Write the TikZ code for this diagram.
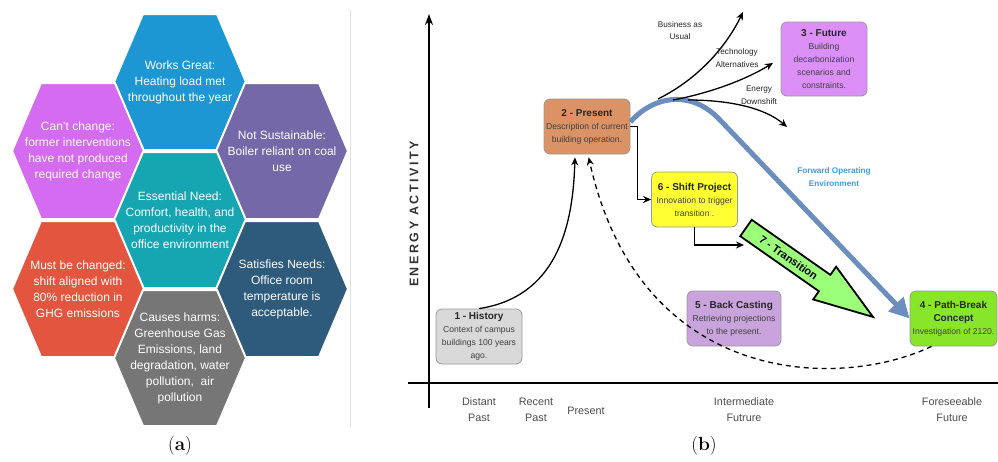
\documentclass[tikz,border=0pt]{standalone}
\usepackage{fontspec}
\setsansfont{Liberation Sans}
\newfontfamily\axisfont[LetterSpace=20]{Liberation Sans}
\usetikzlibrary{arrows.meta}

\definecolor{hexblue}{HTML}{1C97D3}
\definecolor{hexpink}{HTML}{D46BF0}
\definecolor{hexpurple}{HTML}{7568A8}
\definecolor{hexteal}{HTML}{15A6B1}
\definecolor{hexred}{HTML}{E4553F}
\definecolor{hexnavy}{HTML}{2E5A7C}
\definecolor{hexgray}{HTML}{767676}
\definecolor{histgray}{HTML}{D9D9D9}
\definecolor{presorange}{HTML}{DB9366}
\definecolor{futviolet}{HTML}{DC90F7}
\definecolor{shiftyellow}{HTML}{FFFF33}
\definecolor{backlilac}{HTML}{C9A3DC}
\definecolor{breakgreen}{HTML}{88E62A}
\definecolor{transgreen}{HTML}{9CFF7A}
\definecolor{forwardblue}{HTML}{6C8EBF}
\definecolor{forwardtext}{HTML}{3D9BF0}

\tikzstyle{hextext} = [font=\sffamily\fontsize{12}{16}\selectfont, text=white, align=center]
\tikzstyle{box} = [draw=gray!80, rounded corners=6pt, line width=0.8pt, align=center, inner sep=1pt,
                   minimum width=86pt, minimum height=55pt, text=black!75,
                   font=\sffamily\fontsize{8.6}{13}\selectfont]
\tikzstyle{arrow} = [line width=1.3pt, -{Stealth[length=8pt,width=7pt]}]
\tikzstyle{elbow} = [line width=1.3pt, -{Stealth[length=8pt,width=7pt]}]
\tikzstyle{forward} = [line width=5pt, forwardblue, -{Triangle[length=20pt,width=20pt]}]
\tikzstyle{axislabel} = [font=\sffamily\fontsize{10.8}{16}\selectfont, text=black!70, align=center]
\tikzstyle{branch} = [font=\sffamily\fontsize{8.2}{12.5}\selectfont, text=black!85, align=center]
\tikzstyle{caption} = [font=\rmfamily\fontsize{19}{22}\selectfont]

\newcommand{\boxtitle}[1]{{\bfseries\fontsize{10}{13}\selectfont\color{black!85}#1}}

\newcommand{\hexcell}[3]{% x, y, colour
  \filldraw[fill=#3, draw=white, line width=2pt]
    (#1-66,#2) -- (#1-37,#2-68) -- (#1+37,#2-68) -- (#1+66,#2)
    -- (#1+37,#2+68) -- (#1-37,#2+68) -- cycle;}

\begin{document}
\begin{tikzpicture}[x=1pt, y=-1pt]
  \useasboundingbox (0,0) rectangle (998,461);
  \fill[white] (0,0) rectangle (998,461);

  % (a) hexagon cells
  \hexcell{180}{82}{hexblue}
  \hexcell{78}{151}{hexpink}
  \hexcell{282}{151}{hexpurple}
  \hexcell{180}{220}{hexteal}
  \hexcell{78}{289}{hexred}
  \hexcell{282}{289}{hexnavy}
  \hexcell{180}{358}{hexgray}
  \draw[gray!25, line width=1pt] (350,10) -- (350,427);

  \node[hextext] (worksgreat) at (180,82) {Works Great:\\Heating load met\\throughout the year};
  \node[hextext] (cantchange) at (78,151) {Can't change:\\former interventions\\have not produced\\required change};
  \node[hextext] (notsustain) at (282,151) {Not Sustainable:\\Boiler reliant on coal\\use};
  \node[hextext] (essential) at (180,220) {Essential Need:\\Comfort, health, and\\productivity in the\\office environment};
  \node[hextext] (mustchange) at (78,289) {Must be changed:\\shift aligned with\\80\% reduction in\\GHG emissions};
  \node[hextext] (satisfies) at (282,289) {Satisfies Needs:\\Office room\\temperature is\\acceptable.};
  \node[hextext] (harms) at (180,358) {Causes harms:\\Greenhouse Gas\\Emissions, land\\degradation, water\\pollution,\ \ air\\pollution};

  % (b) axes
  \coordinate (ybottom) at (429,408);
  \coordinate (ytop) at (429,14);
  \coordinate (xleft) at (408,383);
  \coordinate (xright) at (998,383);
  \draw[line width=1.6pt, -{Stealth[length=11pt,width=8pt]}] (ybottom) -- (ytop);
  \draw[line width=1.6pt] (xleft) -- (xright);
  \node[font=\axisfont\bfseries\fontsize{12.5}{14}\selectfont, rotate=90, text=black!80] (energy) at (414,214) {ENERGY ACTIVITY};

  \node[axislabel] (distant) at (479,410) {Distant\\Past};
  \node[axislabel] (recent) at (536,410) {Recent\\Past};
  \node[axislabel] (nowlabel) at (586,411) {Present};
  \node[axislabel] (intermediate) at (744,410) {Intermediate\\Futrure};
  \node[axislabel] (foreseeable) at (952,410) {Foreseeable\\Future};

  % stage boxes
  \node[box, fill=histgray] (history) at (479,336.5) {\boxtitle{1 - History}\\Context of campus\\buildings 100 years\\ago.};
  \node[box, fill=presorange] (present) at (587,126.5) {\boxtitle{2 - Present}\\Description of current\\building operation.};
  \node[box, fill=futviolet, minimum height=74pt] (future) at (824,59) {\boxtitle{3 - Future}\\Building\\decarbonization\\scenarios and\\constraints.};
  \node[box, fill=shiftyellow] (shift) at (694.5,199.5) {\boxtitle{6 - Shift Project}\\Innovation to trigger\\transition .};
  \node[box, fill=backlilac, minimum width=94pt] (backcast) at (734,318.5) {\boxtitle{5 - Back Casting}\\Retrieving projections\\to the present.};
  \node[box, fill=breakgreen, minimum width=87pt] (pathbreak) at (953.5,318.5) {\boxtitle{4 - Path-Break}\\\boxtitle{Concept}\\Investigation of 2120.};

  % transition arrow
  \begin{scope}[shift={(746,228)}, rotate=-35]
    \filldraw[fill=transgreen, draw=black, line width=1.8pt, line join=miter]
      (0,-10) -- (96,-10) -- (96,-20) -- (155,0) -- (96,20) -- (96,10) -- (0,10) -- cycle;
    \node[font=\sffamily\bfseries\fontsize{11}{12}\selectfont, rotate=-35] (transition) at (52,0) {7 - Transition};
  \end{scope}
  \coordinate (transin) at (744,245);

  % connectors
  \draw[arrow, shorten >=3pt] (history.north) .. controls (555,297) and (573,230) .. ([xshift=-12pt]present.south);
  \draw[arrow, dash pattern=on 5pt off 4pt, shorten >=3pt] ([xshift=-22pt]pathbreak.south)
    .. controls (840,390) and (640,388) .. ([xshift=1pt]present.south);
  \draw[elbow] (present.east) -- ++(7,0) |- (shift.west);
  \draw[elbow] (shift.south) |- (transin);
  \draw[forward] ([yshift=4.5pt]present.east) .. controls (652,97) and (690,88) .. (720,120) -- (pathbreak.west);

  % branches from the present
  \coordinate (fork1) at (658,99);
  \coordinate (fork2) at (673,100);
  \coordinate (fork3) at (688,100);
  \coordinate (bau) at (743,12);
  \coordinate (techalt) at (773,63);
  \coordinate (downshift) at (787,127);
  \draw[arrow] (fork1) .. controls (700,78) and (727,45) .. (bau);
  \draw[arrow] (fork2) .. controls (710,93) and (745,80) .. (techalt);
  \draw[arrow] (fork3) .. controls (730,100) and (765,108) .. (downshift);

  \node[branch] (baulabel) at (680,30.5) {Business as\\Usual};
  \node[branch] (techlabel) at (737,58) {Technology\\Alternatives};
  \node[branch] (downlabel) at (759,95) {Energy\\Downshift};
  \node[font=\sffamily\bfseries\fontsize{8.2}{12.5}\selectfont, text=forwardtext, align=center] (forwardlabel) at (834,177) {Forward Operating\\Environment};

  % captions
  \node[caption] (capa) at (180,446) {(\textbf{a})};
  \node[caption] (capb) at (704,446) {(\textbf{b})};
\end{tikzpicture}
\end{document}
